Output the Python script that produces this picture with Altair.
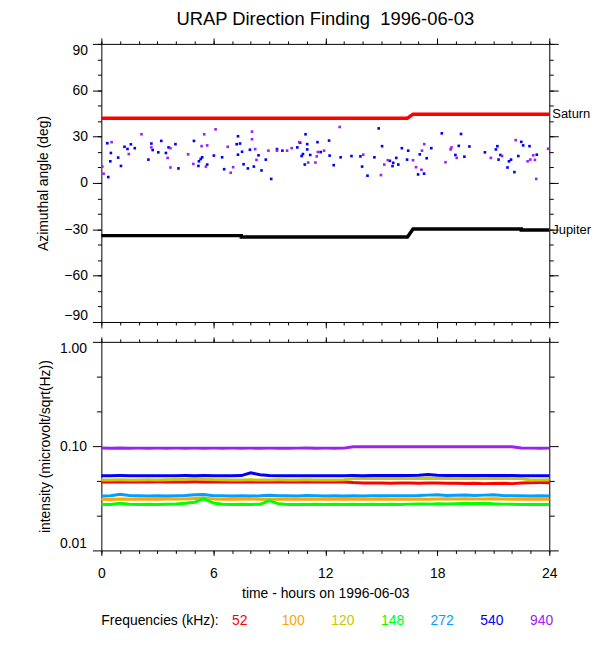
import altair as alt
import pandas as pd

FONT = "Liberation Sans"
TITLE = "URAP Direction Finding \u00a01996-06-03"

# ---------------- top panel data ----------------
# 540 kHz direction-finding points (blue)
sc540_hour = [0.37, 0.32, 0.51, 0.48, 1.05, 0.9, 1.24, 1.4, 1.58, 1.79, 2.52, 2.68, 2.75, 3.05, 3.21,
              3.46, 3.6, 3.97, 4.13, 4.96, 5.2, 5.23, 5.32, 5.4, 5.67, 6.03, 6.47, 6.58, 7.32, 7.25,
              7.43, 7.54, 7.32, 7.62, 7.85, 7.96, 8.17, 8.42, 8.58, 8.81, 9.1, 9.41, 9.7, 10.5, 10.65,
              10.94, 11.03, 11.03, 10.8, 10.73, 11.19, 10.9, 11.58, 11.75,
              12.2, 12.23, 12.82, 12.45, 13.4, 13.88, 13.97, 14.26, 14.63, 14.86, 15.04, 15.46, 15.64,
              15.6, 15.8, 15.91, 16.1, 16.44, 16.38, 16.97, 17.06, 17.29, 17.43, 17.68, 18.24, 18.97,
              19.15, 19.27, 19.45, 19.72, 20.55, 21.14, 21.22, 21.38, 21.28, 21.76, 21.84, 21.95, 22.13,
              22.34, 22.5, 22.6, 22.94, 23.33]
sc540_deg = [3.8, 25.7, 19.4, 14, 11, 16.4, 23.4, 22, 25, 22.5, 15.1, 25.5, 21.3, 19.8, 27.2,
             19.4, 23, 25.1, 9.4, 27.2, 11, 14, 15.5, 16.6, 11.9, 17.7, 16.6, 8.9, 30.2, 25.1,
             25.5, 20.2, 18.3, 12.1, 9.4, 21.5, 10.6, 17.9, 8.1, 15.1, 2.6, 21.9, 20.9, 23, 26,
             31.5, 25.1, 21.7, 18.7, 17.4, 18.1, 11.9, 26.4, 20,
             27.4, 17.7, 16.6, 11.5, 17.4, 17.2, 10.6, 4.7, 16.6, 35.3, 23.8, 14.3, 13,
             10.9, 16.2, 11.9, 22.5, 20.9, 15.1, 5.5, 18.5, 6, 16, 22.5, 32.1, 18.1,
             24, 31.7, 17, 23.6, 19.8, 21.7, 23.8, 18.1, 15.1, 10, 14, 15.1, 7,
             17.4, 26.6, 24.3, 23.8, 18.3]
# 940 kHz direction-finding points (purple)
sc940_hour = [0.05, 0.12, 0.55, 1.47, 2.15, 2.68, 3.7, 3.55, 3.7, 4.65, 4.93, 5.37, 5.51, 5.67, 5.6,
              6.12, 6.77, 6.93, 7.06, 8.07, 8.07, 8.24, 8.31, 8.95, 9.41, 9.95, 10.2, 10.6, 11.08,
              11.47, 11.54, 11.6, 11.93,
              12.77, 14.03, 15.16, 14.98, 15.35, 16.7, 16.86, 17.18, 17.15, 17.3, 18.44, 18.71, 18.76,
              19.04, 20.87, 21.47, 22.2, 22.98, 22.84, 23.14, 23.23, 23.3, 23.94]
sc940_deg = [10.6, 6, 26.4, 18.7, 31.5, 23, 22.5, 16.2, 10, 18.5, 12.3, 23.8, 31.5, 24.3, 10.6,
             34.7, 23.4, 6.6, 10.2, 33.2, 28.3, 21.9, 14.9, 20.9, 20.9, 20.9, 22.5, 26.4, 13.2,
             13.2, 17.2, 20, 20.9,
             36.2, 18.3, 11.9, 5.1, 14.7, 14.7, 10.2, 20.9, 8.5, 25.1, 13.4, 21.7, 23,
             16.2, 16.2, 17.4, 27.7, 15.1, 14, 17.9, 14.9, 2.6, 22.1]

saturn_hour = [0, 16.4, 16.7, 24]
saturn_deg = [41.9, 41.9, 44.5, 44.5]
jupiter_hour = [0, 7.5, 7.5, 16.4, 16.7, 22.5, 22.5, 24]
jupiter_deg = [-34.1, -34.1, -35.0, -35.0, -29.8, -29.8, -30.4, -30.4]

# ---------------- bottom panel data ----------------
hours = [0, 0.5, 1, 1.5, 2, 2.5, 3, 3.5, 4, 4.5, 5, 5.5, 6, 6.5, 7, 7.5, 8, 8.5, 9, 9.5, 10, 10.5,
         11, 11.5, 12, 12.5, 13, 13.5, 14, 14.5, 15, 15.5, 16, 16.5, 17, 17.5, 18, 18.5, 19, 19.5,
         20, 20.5, 21, 21.5, 22, 22.5, 23, 23.5, 24]
f52 = [0.0453, 0.0454, 0.0452, 0.0454, 0.0453, 0.0454, 0.0455, 0.0454, 0.0453, 0.0454, 0.0455, 0.0454,
       0.0453, 0.0454, 0.0453, 0.0454, 0.0453, 0.0454, 0.0453, 0.0454, 0.0453, 0.0452, 0.0454, 0.0453,
       0.0454, 0.0453, 0.0453, 0.0447, 0.0444, 0.0442, 0.0443, 0.0441, 0.0443, 0.0442, 0.0441, 0.0443,
       0.0442, 0.0441, 0.0440, 0.0439, 0.0441, 0.0437, 0.0438, 0.0440, 0.0437, 0.0444, 0.0446, 0.0447,
       0.0446]
f100 = [0.0309, 0.0308, 0.0311, 0.0310, 0.0311, 0.0310, 0.0309, 0.0311, 0.0312, 0.0311, 0.0314, 0.0318,
        0.0312, 0.0310, 0.0311, 0.0310, 0.0311, 0.0310, 0.0309, 0.0310, 0.0311, 0.0310, 0.0309, 0.0310,
        0.0309, 0.0310, 0.0311, 0.0310, 0.0309, 0.0310, 0.0311, 0.0310, 0.0309, 0.0310, 0.0311, 0.0310,
        0.0312, 0.0313, 0.0311, 0.0313, 0.0312, 0.0311, 0.0313, 0.0311, 0.0310, 0.0311, 0.0310, 0.0309,
        0.0309]
f120 = [0.0474, 0.0474, 0.0475, 0.0474, 0.0474, 0.0475, 0.0474, 0.0476, 0.0478, 0.0482, 0.0486, 0.0484,
        0.0478, 0.0475, 0.0474, 0.0474, 0.0475, 0.0474, 0.0474, 0.0475, 0.0474, 0.0474, 0.0475, 0.0474,
        0.0474, 0.0474, 0.0475, 0.0488, 0.0489, 0.0489, 0.0490, 0.0489, 0.0489, 0.0488, 0.0489, 0.0490,
        0.0489, 0.0489, 0.0488, 0.0489, 0.0489, 0.0488, 0.0489, 0.0489, 0.0488, 0.0488, 0.0474, 0.0474,
        0.0475]
f148 = [0.0275, 0.0276, 0.0284, 0.0277, 0.0276, 0.0277, 0.0276, 0.0277, 0.0279, 0.0283, 0.0290, 0.0314,
        0.0285, 0.0277, 0.0276, 0.0277, 0.0276, 0.0277, 0.0300, 0.0280, 0.0276, 0.0275, 0.0276, 0.0277,
        0.0276, 0.0277, 0.0276, 0.0277, 0.0276, 0.0277, 0.0276, 0.0277, 0.0276, 0.0278, 0.0279, 0.0278,
        0.0280, 0.0279, 0.0281, 0.0283, 0.0282, 0.0284, 0.0280, 0.0278, 0.0277, 0.0276, 0.0275, 0.0276,
        0.0275]
f272 = [0.0333, 0.0335, 0.0345, 0.0336, 0.0334, 0.0333, 0.0334, 0.0333, 0.0334, 0.0336, 0.0342, 0.0343,
        0.0335, 0.0334, 0.0333, 0.0334, 0.0333, 0.0334, 0.0338, 0.0335, 0.0334, 0.0333, 0.0336, 0.0334,
        0.0333, 0.0334, 0.0333, 0.0334, 0.0333, 0.0334, 0.0334, 0.0335, 0.0334, 0.0335, 0.0336, 0.0339,
        0.0341, 0.0337, 0.0338, 0.0340, 0.0337, 0.0339, 0.0341, 0.0336, 0.0335, 0.0334, 0.0333, 0.0334,
        0.0333]
f540 = [0.0520, 0.0521, 0.0522, 0.0521, 0.0520, 0.0521, 0.0521, 0.0520, 0.0521, 0.0522, 0.0521, 0.0522,
        0.0521, 0.0520, 0.0521, 0.0522, 0.0556, 0.0532, 0.0524, 0.0521, 0.0520, 0.0521, 0.0520, 0.0521,
        0.0521, 0.0520, 0.0521, 0.0522, 0.0521, 0.0522, 0.0523, 0.0522, 0.0523, 0.0524, 0.0526, 0.0535,
        0.0527, 0.0524, 0.0523, 0.0524, 0.0523, 0.0524, 0.0523, 0.0522, 0.0522, 0.0521, 0.0521, 0.0520,
        0.0521]
f940 = [0.0958, 0.0956, 0.0959, 0.0956, 0.0957, 0.0956, 0.0957, 0.0955, 0.0957, 0.0956, 0.0957, 0.0956,
        0.0957, 0.0956, 0.0957, 0.0956, 0.0957, 0.0955, 0.0957, 0.0956, 0.0956, 0.0957, 0.0958, 0.0956,
        0.0957, 0.0956, 0.0957, 0.0985, 0.0986, 0.0985, 0.0986, 0.0985, 0.0986, 0.0985, 0.0987, 0.0988,
        0.0989, 0.0987, 0.0986, 0.0985, 0.0986, 0.0985, 0.0986, 0.0985, 0.0986, 0.0958, 0.0957, 0.0956,
        0.0957]

freq_labels = ["52", "100", "120", "148", "272", "540", "940"]
freq_colors = ["#ff0000", "#ffa500", "#c8c800", "#00ff00", "#00a0ff", "#0000ff", "#a020f0"]
freq_series = [f52, f100, f120, f148, f272, f540, f940]

x_major = [0, 6, 12, 18, 24]
x_minor = list(range(0, 25))
ya_major = [-90, -60, -30, 0, 30, 60, 90]
ya_minor = list(range(-90, 91, 10))
yl_major = [0.01, 0.1, 1.0]
yl_minor = [10 ** (-5 / 3), 10 ** (-4 / 3), 10 ** (-2 / 3), 10 ** (-1 / 3)]

W, H_TOP, H_BOT = 451, 280, 210

XS = alt.Scale(domain=[0, 24], nice=False, zero=False)
YA = alt.Scale(domain=[-90, 90], nice=False, zero=False)
YL = alt.Scale(type="log", domain=[0.01, 1], nice=False)


def ax(orient, values, size, labels=False, domain=False, flush=False, **kw):
    return alt.Axis(orient=orient, values=values, tickSize=size, labels=labels,
                    domain=domain, ticks=True, grid=False, labelFlush=flush, **kw)


# ---------------- top panel ----------------
df540 = pd.DataFrame({"hour": sc540_hour, "deg": sc540_deg})
df940 = pd.DataFrame({"hour": sc940_hour, "deg": sc940_deg})
dfsat = pd.DataFrame({"hour": saturn_hour, "deg": saturn_deg, "o": range(len(saturn_hour))})
dfjup = pd.DataFrame({"hour": jupiter_hour, "deg": jupiter_deg, "o": range(len(jupiter_hour))})
dflab = pd.DataFrame({"hour": [saturn_hour[-1], jupiter_hour[-1]],
                      "deg": [saturn_deg[-1], jupiter_deg[-1]],
                      "name": ["Saturn", "Jupiter"]})

p540 = alt.Chart(df540).mark_square(size=7, color="#0000ff", opacity=1).encode(
    x=alt.X("hour:Q", scale=XS, title=None, axis=ax("bottom", x_major, 6, domain=True)),
    y=alt.Y("deg:Q", scale=YA, title="Azimuthal angle (deg)",
            axis=ax("left", ya_major, 9, labels=True, domain=True, flush=True,
                    labelPadding=5, titlePadding=13)),
)
p940 = alt.Chart(df940).mark_square(size=7, color="#a020f0", opacity=1).encode(
    x=alt.X("hour:Q", scale=XS, title=None, axis=ax("bottom", x_minor, 3)),
    y=alt.Y("deg:Q", scale=YA, title=None, axis=ax("left", ya_minor, 4)),
)
psat = alt.Chart(dfsat).mark_line(color="#ff0000", strokeWidth=3.5).encode(
    x=alt.X("hour:Q", scale=XS, title=None, axis=ax("top", x_major, 6, domain=True)),
    y=alt.Y("deg:Q", scale=YA, title=None, axis=ax("right", ya_major, 9, domain=True)),
    order="o:Q",
)
pjup = alt.Chart(dfjup).mark_line(color="#000000", strokeWidth=3.5).encode(
    x=alt.X("hour:Q", scale=XS, title=None, axis=ax("top", x_minor, 3)),
    y=alt.Y("deg:Q", scale=YA, title=None, axis=ax("right", ya_minor, 4)),
    order="o:Q",
)
plab = alt.Chart(dflab).mark_text(align="left", baseline="middle", dx=3, fontSize=13,
                                  font=FONT, color="black").encode(
    x=alt.X("hour:Q", scale=XS, axis=None),
    y=alt.Y("deg:Q", scale=YA, axis=None),
    text="name:N",
)

top = alt.layer(psat, pjup, p540, p940, plab).resolve_axis(x="independent", y="independent").properties(
    width=W, height=H_TOP,
    title=alt.TitleParams(TITLE, font=FONT, fontSize=18.5, fontWeight="normal", anchor="middle",
                          color="black", offset=9),
)

# ---------------- bottom panel ----------------
rows = []
for lab, ser in zip(freq_labels, freq_series):
    for h, v in zip(hours, ser):
        rows.append({"hour": h, "val": v, "freq": lab})
dfl = pd.DataFrame(rows)

axes_cfg = [
    (ax("bottom", x_major, 5, labels=True, domain=True, format="d", labelPadding=11, titlePadding=6),
     "time - hours on 1996-06-03",
     ax("left", yl_major, 9, labels=True, domain=True, flush=True, format=".2f",
        labelPadding=6, titlePadding=7),
     "intensity (microvolt/sqrt(Hz))"),
    (ax("bottom", x_minor, 3), None, ax("left", yl_minor, 5), None),
    (ax("top", x_major, 5, domain=True), None, ax("right", yl_major, 9, domain=True), None),
    (ax("top", x_minor, 3), None, ax("right", yl_minor, 5), None),
]

blayers = []
for i, (lab, col) in enumerate(zip(freq_labels, freq_colors)):
    if i < len(axes_cfg):
        xa, xt, ya, yt = axes_cfg[i]
        xenc = alt.X("hour:Q", scale=XS, title=xt, axis=xa)
        yenc = alt.Y("val:Q", scale=YL, title=yt, axis=ya)
    else:
        xenc = alt.X("hour:Q", scale=XS, axis=None)
        yenc = alt.Y("val:Q", scale=YL, axis=None)
    blayers.append(
        alt.Chart(dfl).transform_filter(alt.datum.freq == lab)
        .mark_line(color=col, strokeWidth=3)
        .encode(x=xenc, y=yenc)
    )

bottom = alt.layer(*blayers).resolve_axis(x="independent", y="independent").properties(
    width=W, height=H_BOT)

# ---------------- frequency key row ----------------
dfk = pd.DataFrame({"label": freq_labels, "color": freq_colors})
key_vals = alt.Chart(dfk).mark_text(align="left", baseline="middle", fontSize=14, font=FONT).encode(
    x=alt.X("label:N", sort=freq_labels,
            scale=alt.Scale(type="point", range=[131.5, 431.5], padding=0), axis=None),
    y=alt.value(51),
    text="label:N",
    color=alt.Color("label:N", scale=alt.Scale(domain=freq_labels, range=freq_colors), legend=None),
)
key_head = alt.Chart(pd.DataFrame({"t": ["Frequencies (kHz):"]})).mark_text(
    align="left", baseline="middle", fontSize=14, font=FONT, color="black").encode(
    x=alt.value(0), y=alt.value(51), text="t:N")
key = alt.layer(key_head, key_vals).properties(width=W, height=60)

chart = alt.vconcat(top, bottom, key, spacing=20, bounds="flush").properties(
    padding={"left": 29, "top": 0, "right": 0, "bottom": 0},
    background="white",
).configure_axis(
    labelFont=FONT, titleFont=FONT, labelFontSize=14, titleFontSize=14, titleFontWeight="normal",
    labelColor="black", titleColor="black", tickColor="black", domainColor="black",
    tickWidth=1, domainWidth=1,
).configure_view(stroke=None)

chart.save("out.html", embed_options={"renderer": "svg", "actions": False})
